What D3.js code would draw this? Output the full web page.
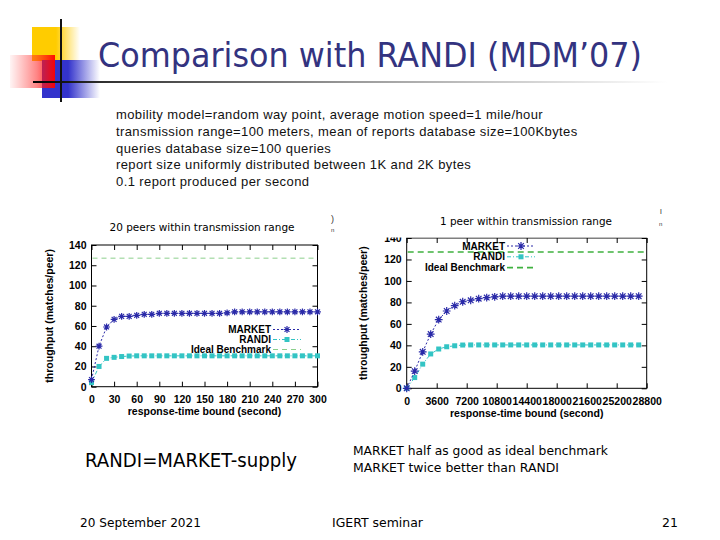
<!DOCTYPE html>
<html>
<head>
<meta charset="utf-8">
<script src="https://cdn.jsdelivr.net/npm/d3@7"></script>
<style>
  body { margin: 0; background: #fff; }
  svg { display: block; }
</style>
</head>
<body>
<div id="slide"></div>
<script>
/* Slide: MARKET vs RANDI throughput, two gnuplot-style panels */

const leftTimes = [0, 10, 20, 30, 40, 50, 60, 70, 80, 90, 100, 110, 120, 130, 140, 150,
  160, 170, 180, 190, 200, 210, 220, 230, 240, 250, 260, 270, 280, 290, 300];
const leftMarket = [7, 40, 59, 66.5, 69.5, 69.5, 70.5, 71.5, 71.5, 72.5, 72.5, 72.5, 72.5, 72.5, 72.5, 72.5,
  72.5, 72.5, 73, 74, 74, 74, 74, 74, 74, 74, 74, 74, 74, 74, 74];
const leftRandi = [4, 20, 28, 29, 29.8, 30.3, 30.5, 30.5, 30.5, 30.5, 30.5, 30.5, 30.5, 30.5, 30.5, 30.5,
  30.5, 30.5, 30.5, 30.5, 30.5, 30.5, 30.5, 30.5, 30.5, 30.5, 30.5, 30.5, 30.5, 30.5, 30.5];

const rightTimes = [0, 960, 1920, 2880, 3840, 4800, 5760, 6720, 7680, 8640, 9600, 10560, 11520, 12480, 13440,
  14400, 15360, 16320, 17280, 18240, 19200, 20160, 21120, 22080, 23040, 24000, 24960, 25920, 26880, 27840];
const rightMarket = [0, 16, 34, 50.5, 64, 72, 77, 80.6, 82, 83.5, 84.5, 85.2, 85.8, 85.8, 85.8,
  85.8, 85.8, 85.8, 85.8, 85.8, 85.8, 85.8, 85.8, 85.8, 85.8, 85.8, 85.8, 85.8, 85.8, 85.8];
const rightRandi = [0, 10, 22.5, 32, 36.6, 38.7, 39.6, 40.3, 40.4, 40.4, 40.4, 40.4, 40.4, 40.4, 40.4,
  40.4, 40.4, 40.4, 40.4, 40.4, 40.4, 40.4, 40.4, 40.4, 40.4, 40.4, 40.4, 40.4, 40.4, 40.4];

const idealBenchmark = 127;
const yTicks = [0, 20, 40, 60, 80, 100, 120, 140];
const leftXTicks = [0, 30, 60, 90, 120, 150, 180, 210, 240, 270, 300];
const rightXTicks = [0, 3600, 7200, 10800, 14400, 18000, 21600, 25200, 28800];
const legendNames = ["MARKET", "RANDI", "Ideal Benchmark"];

const settingsLines = [
  "mobility model=random way point, average motion speed=1 mile/hour",
  "transmission range=100 meters, mean of reports database size=100Kbytes",
  "queries database size=100 queries",
  "report size uniformly distributed between 1K and 2K bytes",
  "0.1 report produced per second"
];

const width = 720, height = 540;
const marketColor = "#2a2aa8";
const randiColor = "#33c4c4";
const bold = "'Liberation Sans', Arial, sans-serif";

const svg = d3.select("#slide").append("svg")
  .attr("width", width)
  .attr("height", height);

const defs = svg.append("defs");

function hGrad(id, stops) {
  const g = defs.append("linearGradient").attr("id", id)
    .attr("x1", 0).attr("x2", 1).attr("y1", 0).attr("y2", 0);
  stops.forEach(s => g.append("stop").attr("offset", s[0]).attr("stop-color", s[1]).attr("stop-opacity", s[2]));
}
hGrad("gYellow", [[0, "#ffcc00", 1], [0.5, "#ffcc00", 1], [1, "#ffcc00", 0]]);
hGrad("gBlue", [[0, "#3333cc", 1], [0.45, "#3333cc", 1], [1, "#3333cc", 0]]);
hGrad("gRed", [[0, "#ff3030", 0.05], [0.6, "#ff2020", 0.55], [1, "#ff0000", 0.95]]);
hGrad("gRule", [[0, "#000", 1], [0.12, "#333", 1], [0.5, "#999", 1], [1, "#fff", 1]]);

// Decorative corner blocks
svg.append("rect").attr("x", 32).attr("y", 27).attr("width", 48).attr("height", 34).attr("fill", "url(#gYellow)");
svg.append("rect").attr("x", 42).attr("y", 60).attr("width", 58).attr("height", 38).attr("fill", "url(#gBlue)");
svg.append("rect").attr("x", 10).attr("y", 55).attr("width", 45).attr("height", 33).attr("fill", "url(#gRed)");
svg.append("line").attr("x1", 61).attr("x2", 61).attr("y1", 19).attr("y2", 102)
  .attr("stroke", "#111").attr("stroke-width", 2);
svg.append("rect").attr("x", 33).attr("y", 81).attr("width", 634).attr("height", 2).attr("fill", "url(#gRule)");

// Title
svg.append("text")
  .attr("x", 98).attr("y", 67)
  .attr("font-family", "'DejaVu Sans', Verdana, sans-serif")
  .attr("font-size", 33)
  .attr("fill", "#333380")
  .attr("textLength", 544)
  .attr("lengthAdjust", "spacingAndGlyphs")
  .text("Comparison with RANDI (MDM\u201907)");

// Simulation settings
svg.append("g").selectAll("text")
  .data(settingsLines)
  .join("text")
  .attr("x", 116)
  .attr("y", (d, i) => 119 + i * 16.8)
  .attr("font-family", "'Liberation Sans', Arial, sans-serif")
  .attr("font-size", 13)
  .attr("letter-spacing", 0.4)
  .attr("fill", "#111")
  .text(d => d);

function starPath(s) {
  const d = s * 0.72;
  return `M${-s},0H${s}M0,${-s}V${s}M${-d},${-d}L${d},${d}M${-d},${d}L${d},${-d}`;
}

function drawPanel(o) {
  const g = svg.append("g");
  const clipId = "clip" + o.id;
  defs.append("clipPath").attr("id", clipId)
    .append("rect").attr("x", 0).attr("y", o.clipTop).attr("width", width).attr("height", height);
  g.attr("clip-path", `url(#${clipId})`);

  const x = d3.scaleLinear().domain(o.xDomain).range([o.left, o.right]);
  const y = d3.scaleLinear().domain([0, 140]).range([o.bottom, o.top]);
  const tk = 5;

  const styleAxis = a => {
    a.select(".domain").remove();
    a.selectAll("line").attr("stroke", "#000");
    a.selectAll("text").attr("font-family", bold).attr("font-weight", "bold")
      .attr("font-size", 10.5).attr("fill", "#000");
  };

  g.append("g").attr("transform", `translate(0,${o.bottom})`)
    .call(d3.axisBottom(x).tickValues(o.xTicks).tickSizeInner(-tk).tickSizeOuter(0).tickPadding(9).tickFormat(d3.format("d")))
    .call(styleAxis);
  g.append("g").attr("transform", `translate(0,${o.top})`)
    .call(d3.axisTop(x).tickValues(o.xTicks).tickSizeInner(-tk).tickSizeOuter(0).tickFormat(""))
    .call(styleAxis);
  g.append("g").attr("transform", `translate(${o.left},0)`)
    .call(d3.axisLeft(y).tickValues(yTicks).tickSizeInner(-tk).tickSizeOuter(0).tickPadding(5))
    .call(styleAxis);
  g.append("g").attr("transform", `translate(${o.right},0)`)
    .call(d3.axisRight(y).tickValues(yTicks).tickSizeInner(-tk).tickSizeOuter(0).tickFormat(""))
    .call(styleAxis);

  g.append("rect")
    .attr("x", o.left).attr("y", o.top)
    .attr("width", o.right - o.left).attr("height", o.bottom - o.top)
    .attr("fill", "none").attr("stroke", "#000").attr("stroke-width", 1);

  // Ideal benchmark
  g.append("line")
    .attr("x1", o.left + 1).attr("x2", o.right - 1)
    .attr("y1", y(idealBenchmark)).attr("y2", y(idealBenchmark))
    .attr("stroke", o.idealColor).attr("stroke-width", o.idealWidth)
    .attr("stroke-dasharray", o.idealDash);

  const line = d3.line().x(d => x(d[0])).y(d => y(d[1]));
  const mkt = o.times.map((t, i) => [t, o.market[i]]);
  const rnd = o.times.map((t, i) => [t, o.randi[i]]);

  g.append("path").datum(rnd).attr("d", line)
    .attr("fill", "none").attr("stroke", randiColor).attr("stroke-width", 1)
    .attr("stroke-dasharray", "4,2,1,2");
  g.selectAll(".rsq").data(rnd).join("rect").attr("class", "rsq")
    .attr("x", d => x(d[0]) - 2.5).attr("y", d => y(d[1]) - 2.5)
    .attr("width", 5).attr("height", 5).attr("fill", randiColor);

  g.append("path").datum(mkt).attr("d", line)
    .attr("fill", "none").attr("stroke", marketColor).attr("stroke-width", 1)
    .attr("stroke-dasharray", "2,2");
  g.selectAll(".mst").data(mkt).join("path").attr("class", "mst")
    .attr("transform", d => `translate(${x(d[0])},${y(d[1])})`)
    .attr("d", starPath(o.star))
    .attr("fill", "none").attr("stroke", marketColor).attr("stroke-width", 1.2);

  // Legend
  const lg = g.append("g").attr("font-family", bold).attr("font-weight", "bold").attr("font-size", 10);
  legendNames.forEach((name, i) => {
    const cy = o.legendY + i * o.legendStep;
    lg.append("text").attr("x", o.legendX).attr("y", cy + 3.6)
      .attr("text-anchor", "end").attr("fill", "#000").text(name);
    const x1 = o.legendX + 2, x2 = o.legendX + 30, xm = (x1 + x2) / 2;
    if (i === 0) {
      lg.append("line").attr("x1", x1).attr("x2", x2).attr("y1", cy).attr("y2", cy)
        .attr("stroke", marketColor).attr("stroke-dasharray", "2,2");
      lg.append("path").attr("transform", `translate(${xm},${cy})`).attr("d", starPath(o.star))
        .attr("fill", "none").attr("stroke", marketColor).attr("stroke-width", 1.2);
    } else if (i === 1) {
      lg.append("line").attr("x1", x1).attr("x2", x2).attr("y1", cy).attr("y2", cy)
        .attr("stroke", randiColor).attr("stroke-dasharray", "4,2,1,2");
      lg.append("rect").attr("x", xm - 2.5).attr("y", cy - 2.5).attr("width", 5).attr("height", 5)
        .attr("fill", randiColor);
    } else {
      lg.append("line").attr("x1", x1).attr("x2", x2).attr("y1", cy).attr("y2", cy)
        .attr("stroke", o.idealColor).attr("stroke-width", o.idealWidth).attr("stroke-dasharray", o.idealDash);
    }
  });

  // Axis titles
  svg.append("text")
    .attr("transform", `translate(${o.yLabelX},${(o.top + o.bottom) / 2}) rotate(-90)`)
    .attr("text-anchor", "middle")
    .attr("font-family", bold).attr("font-weight", "bold").attr("font-size", 10.5)
    .text("throughput (matches/peer)");
  svg.append("text")
    .attr("x", (o.left + o.right) / 2).attr("y", o.xLabelY)
    .attr("text-anchor", "middle")
    .attr("font-family", bold).attr("font-weight", "bold").attr("font-size", 10.5)
    .text("response-time bound (second)");
  svg.append("text")
    .attr("x", o.titleX).attr("y", o.titleY)
    .attr("text-anchor", "middle")
    .attr("font-family", "'DejaVu Sans', sans-serif").attr("font-size", 10)
    .attr("textLength", o.titleLen).attr("lengthAdjust", "spacingAndGlyphs")
    .text(o.title);
}

drawPanel({
  id: "L", times: leftTimes, market: leftMarket, randi: leftRandi,
  xDomain: [0, 300], xTicks: leftXTicks,
  left: 91.5, right: 317.5, top: 245, bottom: 386.7, clipTop: 0,
  idealColor: "#8ccf8c", idealWidth: 1, idealDash: "5,4", star: 3.4,
  legendX: 271, legendY: 329.5, legendStep: 10,
  yLabelX: 53, xLabelY: 415,
  title: "20 peers within transmission range", titleX: 202, titleY: 231, titleLen: 185
});

drawPanel({
  id: "R", times: rightTimes, market: rightMarket, randi: rightRandi,
  xDomain: [0, 28800], xTicks: rightXTicks,
  left: 406.7, right: 646.7, top: 238, bottom: 388.3, clipTop: 237.4,
  idealColor: "#3fb13f", idealWidth: 1.6, idealDash: "6,4", star: 3.9,
  legendX: 505, legendY: 246, legendStep: 10.8,
  yLabelX: 367, xLabelY: 417,
  title: "1 peer within transmission range", titleX: 526, titleY: 225, titleLen: 172
});

// Cropped fragments at panel edges
const frag = svg.append("g").attr("font-family", bold).attr("font-size", 9).attr("fill", "#333");
frag.append("text").attr("x", 331).attr("y", 222).text(")");
frag.append("text").attr("x", 331).attr("y", 232).attr("font-size", 6).text("n");
frag.append("text").attr("x", 660).attr("y", 214).attr("font-size", 8).text("l");
frag.append("text").attr("x", 659).attr("y", 226).attr("font-size", 6).text("n");

// Conclusions and footer
const tahoma = "'DejaVu Sans', Verdana, sans-serif";
svg.append("text").attr("x", 85).attr("y", 467)
  .attr("font-family", tahoma).attr("font-size", 19)
  .attr("textLength", 212).attr("lengthAdjust", "spacingAndGlyphs")
  .text("RANDI=MARKET-supply");
svg.append("text").attr("x", 353).attr("y", 455)
  .attr("font-family", tahoma).attr("font-size", 12.5)
  .attr("textLength", 255).attr("lengthAdjust", "spacingAndGlyphs")
  .text("MARKET half as good as ideal benchmark");
svg.append("text").attr("x", 353).attr("y", 472)
  .attr("font-family", tahoma).attr("font-size", 12.5)
  .attr("textLength", 206).attr("lengthAdjust", "spacingAndGlyphs")
  .text("MARKET twice better than RANDI");
svg.append("text").attr("x", 80).attr("y", 527)
  .attr("font-family", tahoma).attr("font-size", 12.5)
  .attr("textLength", 121).attr("lengthAdjust", "spacingAndGlyphs")
  .text("20 September 2021");
svg.append("text").attr("x", 332).attr("y", 527)
  .attr("font-family", tahoma).attr("font-size", 12.5)
  .attr("textLength", 91).attr("lengthAdjust", "spacingAndGlyphs")
  .text("IGERT seminar");
svg.append("text").attr("x", 678).attr("y", 527).attr("text-anchor", "end")
  .attr("font-family", tahoma).attr("font-size", 12.5)
  .text("21");
</script>
</body>
</html>
